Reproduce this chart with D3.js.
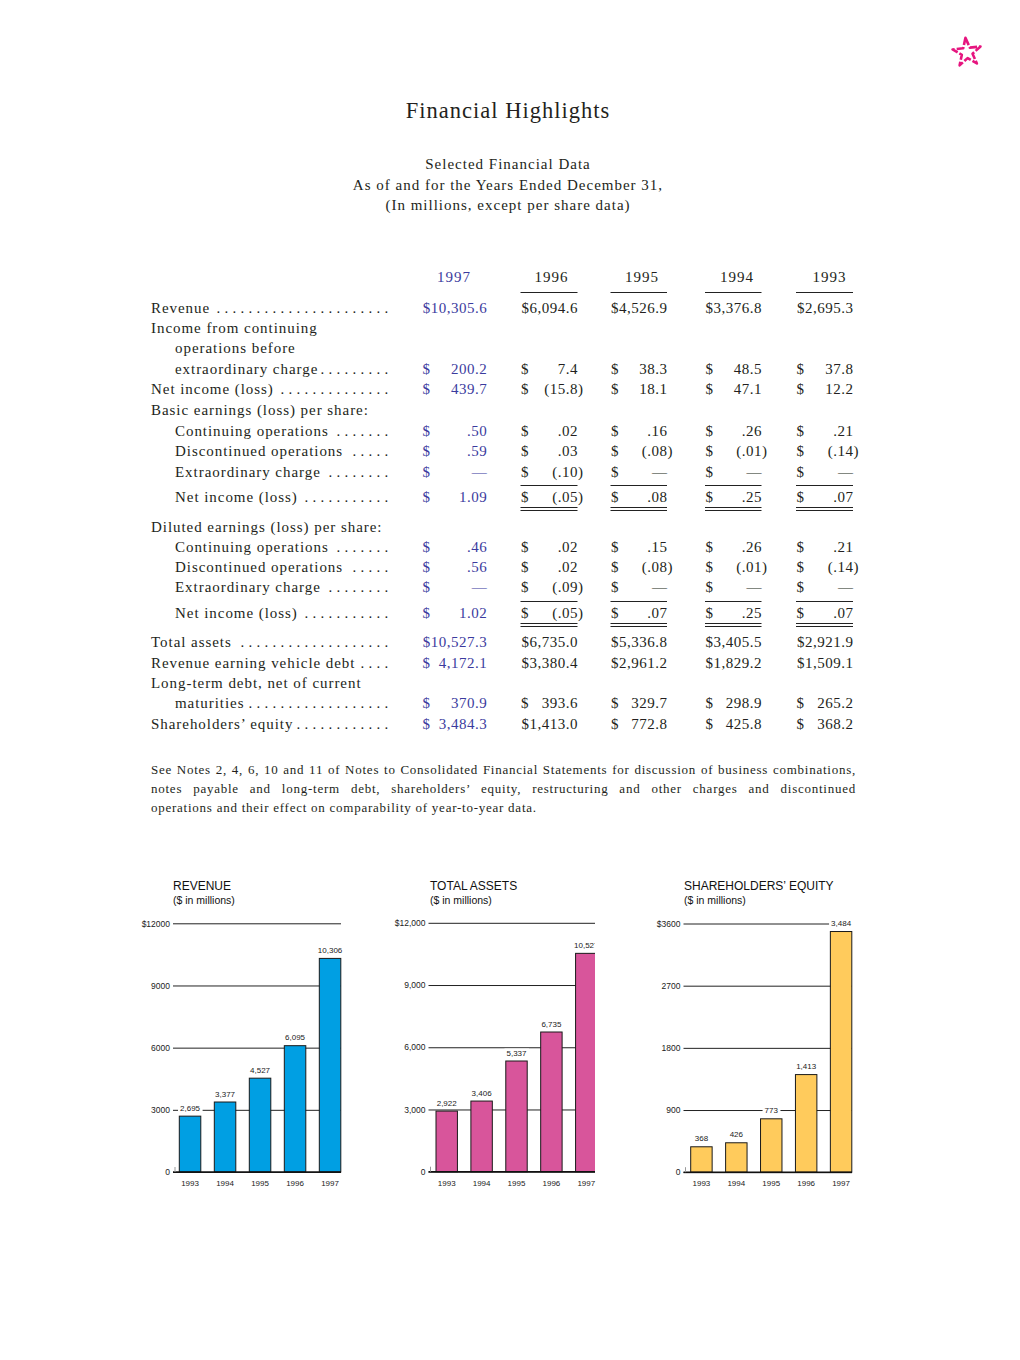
<!DOCTYPE html>
<html><head><meta charset="utf-8">
<script src="https://cdn.jsdelivr.net/npm/d3@7"></script>
<style>body{margin:0;background:#fff} svg{display:block}</style>
</head><body>
<svg id="c" width="1020" height="1360"></svg>
<script>
// ---------- DATA ----------
const tableYears = ["1997","1996","1995","1994","1993"];
const revenueRow      = ["$10,305.6","$6,094.6","$4,526.9","$3,376.8","$2,695.3"];
const incomeContRow   = ["200.2","7.4","38.3","48.5","37.8"];
const netIncomeRow    = ["439.7","(15.8)","18.1","47.1","12.2"];
const basicContRow    = [".50",".02",".16",".26",".21"];
const basicDiscRow    = [".59",".03","(.08)","(.01)","(.14)"];
const basicExtraRow   = ["—","(.10)","—","—","—"];
const basicNetRow     = ["1.09","(.05)",".08",".25",".07"];
const dilContRow      = [".46",".02",".15",".26",".21"];
const dilDiscRow      = [".56",".02","(.08)","(.01)","(.14)"];
const dilExtraRow     = ["—","(.09)","—","—","—"];
const dilNetRow       = ["1.02","(.05)",".07",".25",".07"];
const totalAssetsRow  = ["$10,527.3","$6,735.0","$5,336.8","$3,405.5","$2,921.9"];
const vehicleDebtRow  = ["4,172.1","$3,380.4","$2,961.2","$1,829.2","$1,509.1"];
const longTermDebtRow = ["370.9","393.6","329.7","298.9","265.2"];
const equityRow       = ["3,484.3","$1,413.0","772.8","425.8","368.2"];

const chartYears     = ["1993","1994","1995","1996","1997"];
const revenueValues  = [2695, 3377, 4527, 6095, 10306];
const assetsValues   = [2922, 3406, 5337, 6735, 10527];
const equityValues   = [368, 426, 773, 1413, 3484];
const revenueTicks   = [0, 3000, 6000, 9000, 12000];
const revenueTickLabels = ["0","3000","6000","9000","$12000"];
const assetsTicks    = [0, 3000, 6000, 9000, 12000];
const assetsTickLabels = ["0","3,000","6,000","9,000","$12,000"];
const equityTicks    = [0, 900, 1800, 2700, 3600];
const equityTickLabels = ["0","900","1800","2700","$3600"];

const noteLines = [
  "See Notes 2, 4, 6, 10 and 11 of Notes to Consolidated Financial Statements for discussion of business combinations,",
  "notes payable and long-term debt, shareholders’ equity, restructuring and other charges and discontinued",
  "operations and their effect on comparability of year-to-year data."
];

// ---------- STYLE / LAYOUT ----------
const SERIF = "'Liberation Serif','Times New Roman',serif";
const SANS = "'Liberation Sans',Arial,Helvetica,sans-serif";
const TXT = "#231f20";
const BLUE = "#3b3b9e";
const svg = d3.select("#c");

// star logo
svg.append("path")
  .attr("d", d3.symbol(d3.symbolStar).size(245)())
  .attr("transform","translate(967,52.5) rotate(-6)")
  .attr("fill","none").attr("stroke","#e6157f").attr("stroke-width",2.6)
  .attr("stroke-dasharray","8,2").attr("stroke-linejoin","round");

// titles
svg.append("text").attr("x",508).attr("y",118).attr("text-anchor","middle")
  .style("font-family",SERIF).style("font-size","22.5px").style("letter-spacing","1px")
  .attr("fill",TXT).text("Financial Highlights");
["Selected Financial Data","As of and for the Years Ended December 31,","(In millions, except per share data)"]
  .forEach((s,i)=>svg.append("text").attr("x",508).attr("y",169+i*20.5).attr("text-anchor","middle")
    .style("font-family",SERIF).style("font-size","15px").style("letter-spacing","1px")
    .attr("fill",TXT).text(s));

// ---------- TABLE ----------
const cols = [
  {dx:422.5, rx:486.8, hx:454, color:BLUE, rules:false},
  {dx:521,   rx:577.5, hx:551.5, color:TXT, rules:true},
  {dx:611,   rx:667,   hx:642,   color:TXT, rules:true},
  {dx:705.5, rx:761.5, hx:737,   color:TXT, rules:true},
  {dx:796.5, rx:853,   hx:829.5, color:TXT, rules:true}
];
const tg = svg.append("g").style("font-family",SERIF).style("font-size","15px");

tableYears.forEach((yr,i)=>{
  const c = cols[i];
  tg.append("text").attr("x",c.hx).attr("y",282).attr("text-anchor","middle")
    .style("letter-spacing","1px").attr("fill",c.color).text(yr);
  if (c.rules) tg.append("line").attr("x1",c.dx-0.5).attr("x2",c.rx).attr("y1",292.5).attr("y2",292.5)
    .attr("stroke","#222").attr("stroke-width",1);
});

const rows = [
  {label:"Revenue", y:312.5, dots:true, values:revenueRow},
  {label:"Income from continuing", y:333},
  {label:"operations before", indent:true, y:353.3},
  {label:"extraordinary charge", indent:true, y:374, dots:true, values:incomeContRow},
  {label:"Net income (loss)", y:394.3, dots:true, values:netIncomeRow},
  {label:"Basic earnings (loss) per share:", y:415},
  {label:"Continuing operations", indent:true, y:435.7, dots:true, values:basicContRow},
  {label:"Discontinued operations", indent:true, y:456, dots:true, values:basicDiscRow},
  {label:"Extraordinary charge", indent:true, y:476.7, dots:true, values:basicExtraRow, single:true},
  {label:"Net income (loss)", indent:true, y:501.7, dots:true, values:basicNetRow, dbl:true},
  {label:"Diluted earnings (loss) per share:", y:531.7},
  {label:"Continuing operations", indent:true, y:551.7, dots:true, values:dilContRow},
  {label:"Discontinued operations", indent:true, y:572, dots:true, values:dilDiscRow},
  {label:"Extraordinary charge", indent:true, y:592.3, dots:true, values:dilExtraRow, single:true},
  {label:"Net income (loss)", indent:true, y:617.7, dots:true, values:dilNetRow, dbl:true},
  {label:"Total assets", y:647.3, dots:true, values:totalAssetsRow},
  {label:"Revenue earning vehicle debt", y:667.7, dots:true, values:vehicleDebtRow},
  {label:"Long-term debt, net of current", y:688.3},
  {label:"maturities", indent:true, y:708.3, dots:true, values:longTermDebtRow},
  {label:"Shareholders’ equity", y:728.5, dots:true, values:equityRow}
];

rows.forEach(r=>{
  const lx = r.indent ? 175 : 151;
  const t = tg.append("text").attr("x",lx).attr("y",r.y).style("letter-spacing","0.95px")
    .attr("fill",TXT).text(r.label);
  if (r.dots) {
    const end = lx + t.node().getComputedTextLength();
    for (let x = 384.5; x > end + 1.5; x -= 8)
      tg.append("text").attr("x",x).attr("y",r.y).attr("fill",TXT).text(".");
  }
  if (r.values) r.values.forEach((v,i)=>{
    const c = cols[i];
    if (v.startsWith("$")) {
      tg.append("text").attr("x",c.rx+0.5).attr("y",r.y).attr("text-anchor","end")
        .style("letter-spacing","0.5px").attr("fill",c.color).text(v);
    } else {
      tg.append("text").attr("x",c.dx).attr("y",r.y).attr("fill",c.color).text("$");
      const hang = v.endsWith(")") ? 5.5 : 0;
      tg.append("text").attr("x",c.rx+0.5+hang).attr("y",r.y).attr("text-anchor","end")
        .style("letter-spacing","0.5px").attr("fill",c.color).text(v);
    }
  });
  cols.forEach(c=>{
    if (!c.rules) return;
    if (r.single) {
      const yy = Math.round(r.y+8.5)+0.5;
      tg.append("line").attr("x1",c.dx-0.5).attr("x2",c.rx).attr("y1",yy).attr("y2",yy).attr("stroke","#222");
    }
    if (r.dbl) {
      [5.3, 8.3].forEach(o=>{
        const yy = Math.round(r.y+o)+0.5;
        tg.append("line").attr("x1",c.dx-0.5).attr("x2",c.rx).attr("y1",yy).attr("y2",yy).attr("stroke","#222");
      });
    }
  });
});

// ---------- NOTE ----------
const ng = svg.append("g").style("font-family",SERIF).style("font-size","13px");
noteLines.forEach((s,i)=>{
  const t = ng.append("text").attr("x",151).attr("y",774+i*19.2).style("letter-spacing","0.75px")
    .attr("fill",TXT).text(s);
  if (i < noteLines.length-1) {
    const len = t.node().getComputedTextLength();
    const spaces = (s.match(/ /g)||[]).length;
    t.style("word-spacing", ((856 - 151 - len)/spaces) + "px");
  }
});

// ---------- BAR CHARTS ----------
function barChart(o) {
  const g = svg.append("g");
  const y = d3.scaleLinear().domain(o.domain).range([o.y0, o.y1]);
  const x = d3.scaleBand().domain(chartYears).range(o.band).paddingInner(0.386).paddingOuter(0);

  g.append("text").attr("x",o.tx).attr("y",890).style("font-family",SANS).style("font-size","12px")
    .attr("fill","#111").text(o.title);
  g.append("text").attr("x",o.tx).attr("y",903.5).style("font-family",SANS).style("font-size","10.5px")
    .attr("fill","#111").text("($ in millions)");

  const clipId = "clip" + o.id;
  g.append("clipPath").attr("id",clipId).append("rect")
    .attr("x",o.gx0-60).attr("y",880).attr("width",o.clipRight-(o.gx0-60)).attr("height",320);
  const body = g.append("g").attr("clip-path",`url(#${clipId})`);

  const axis = d3.axisLeft(y).tickValues(o.ticks).tickFormat((d,i)=>o.tickLabels[i])
    .tickSize(-(o.gx1-o.gx0)).tickPadding(3);
  const ag = body.append("g").attr("transform",`translate(${o.gx0},0)`).call(axis);
  ag.select(".domain").remove();
  ag.selectAll(".tick line").attr("stroke","#222").attr("stroke-width",1);
  ag.selectAll(".tick text").style("font-family",SANS).style("font-size","8.5px").attr("fill","#222");

  body.selectAll("rect.bar").data(o.values).join("rect").attr("class","bar")
    .attr("x",(d,i)=>x(chartYears[i])).attr("width",x.bandwidth())
    .attr("y",d=>y(d)).attr("height",d=>y(0)-y(d))
    .attr("fill",o.color).attr("stroke","#1a1a1a").attr("stroke-width",1);

  // baseline + small tick
  body.append("line").attr("x1",o.gx0).attr("x2",o.gx1).attr("y1",y(0)).attr("y2",y(0))
    .attr("stroke","#111").attr("stroke-width",1.6);
  body.append("line").attr("x1",o.gx0+2).attr("x2",o.gx0+2).attr("y1",y(0)-5).attr("y2",y(0))
    .attr("stroke","#999").attr("stroke-width",1);

  // value labels
  const fmt = d3.format(",");
  o.values.forEach((v,i)=>{
    const cx = x(chartYears[i]) + x.bandwidth()/2;
    const t = body.append("text").attr("x",cx).attr("y",y(v)-5.5).attr("text-anchor","middle")
      .style("font-family",SANS).style("font-size","8px").attr("fill","#222").text(fmt(v));
    const bb = t.node().getBBox();
    body.insert("rect", () => t.node()).attr("x",bb.x-2).attr("y",bb.y).attr("width",bb.width+4)
      .attr("height",bb.height).attr("fill","#fff");
  });

  // year labels
  chartYears.forEach(yr=>{
    g.append("text").attr("x",x(yr)+x.bandwidth()/2).attr("y",1185.5).attr("text-anchor","middle")
      .style("font-family",SANS).style("font-size","8px").attr("fill","#222").text(yr);
  });
}

barChart({id:"rev", title:"REVENUE", tx:173, gx0:173, gx1:341, band:[179.3,340.8], clipRight:370,
  domain:[0,12000], y0:1172, y1:923.3, ticks:revenueTicks, tickLabels:revenueTickLabels,
  values:revenueValues, color:"#009fe3"});
barChart({id:"ast", title:"TOTAL ASSETS", tx:430, gx0:428.5, gx1:595, band:[436,597], clipRight:595,
  domain:[0,12000], y0:1171.7, y1:922.8, ticks:assetsTicks, tickLabels:assetsTickLabels,
  values:assetsValues, color:"#d8559b"});
barChart({id:"eq", title:"SHAREHOLDERS’ EQUITY", tx:684, gx0:683.5, gx1:852, band:[690.7,851.8], clipRight:880,
  domain:[0,3600], y0:1172.2, y1:923.5, ticks:equityTicks, tickLabels:equityTickLabels,
  values:equityValues, color:"#ffcb5c"});
</script>
</body></html>
